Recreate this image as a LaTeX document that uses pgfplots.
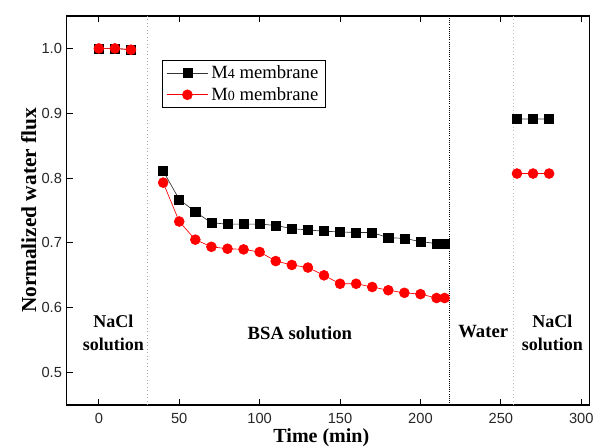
\documentclass[border=0pt]{standalone}
\usepackage{fontspec}
\setmainfont{Liberation Serif}
\newfontfamily\arialf{Liberation Sans}
\usepackage{pgfplots}
\pgfplotsset{compat=1.18}
\begin{document}
\begin{tikzpicture}
\path[use as bounding box] (-50pt,-32.25pt) rectangle (395.5pt,303.75pt);
\begin{axis}[
  scale only axis,
  width=392pt, height=291.75pt,
  xmin=-20, xmax=305, ymin=0.45, ymax=1.05,
  xtick={0,50,...,300},
  ytick={0.5,0.6,...,1.0},
  yticklabel style={/pgf/number format/.cd,fixed,fixed zerofill,precision=1},
  /pgf/number format/assume math mode=true,
  tick label style={font=\arialf\fontsize{11}{12}\selectfont, black!85},
  xticklabel style={yshift=-3pt},
  xtick pos=both, ytick pos=left,
  tick align=inside,
  major tick length=4.5pt,
  minor tick num=0,
  axis line style={line width=1pt},
  every tick/.style={black, line width=0.8pt},
  xlabel={\bfseries Time (min)},
  ylabel={\bfseries Normalized water flux},
  xlabel style={font=\fontsize{15}{17}\selectfont, yshift=1.5pt, xshift=-5pt, inner sep=1pt},
  ylabel style={font=\fontsize{16}{18}\selectfont, yshift=-3pt},
  unbounded coords=jump,
  legend style={at={(0.182,0.887)}, anchor=north west, draw=black, line width=0.6pt,
    font=\fontsize{14}{16}\selectfont, row sep=1pt, inner xsep=3pt, inner ysep=2pt},
  legend cell align=left,
  legend image code/.code={
    \draw[#1] (0cm,0cm) -- (1.1cm,0cm);
    \draw[#1, only marks] plot coordinates {(0.55cm,0cm)};
  },
  clip=false,
]
% vertical separators
\draw[black!35, dotted, line width=0.6pt] (axis cs:30,0.45) -- (axis cs:30,1.05);
\draw[black, densely dotted, line width=0.6pt] (axis cs:218,0.45) -- (axis cs:218,1.05);
\draw[black!25, dotted, line width=0.6pt] (axis cs:258,0.45) -- (axis cs:258,1.05);

\addplot[black!80, line width=0.5pt, mark=square*, mark size=3.4pt,
  mark options={fill=black, draw=black}] coordinates {
  (0,1.0) (10,1.0) (20,0.998) (25,nan)
  (40,0.811) (50,0.767) (60,0.748) (70,0.731) (80,0.729) (90,0.729) (100,0.729)
  (110,0.727) (120,0.722) (130,0.720) (140,0.718) (150,0.717) (160,0.716) (170,0.716)
  (180,0.708) (190,0.707) (200,0.702) (210,0.699) (215,0.699) (240,nan)
  (260,0.891) (270,0.891) (280,0.891)
};
\addlegendentry{M{\fontsize{10.5}{12}\selectfont 4} membrane}
\addplot[red, line width=0.5pt, mark=*, mark size=3.7pt,
  mark options={fill=red, draw=red}] coordinates {
  (0,1.0) (10,1.0) (20,0.998) (25,nan)
  (40,0.793) (50,0.733) (60,0.705) (70,0.694) (80,0.691) (90,0.690) (100,0.686)
  (110,0.672) (120,0.666) (130,0.662) (140,0.650) (150,0.637) (160,0.637) (170,0.632)
  (180,0.627) (190,0.623) (200,0.621) (210,0.615) (215,0.615) (240,nan)
  (260,0.807) (270,0.807) (280,0.807)
};
\addlegendentry{M{\fontsize{10.5}{12}\selectfont 0} membrane}

\node[font=\bfseries\fontsize{13.5}{17}\selectfont, align=center] at (axis cs:9,0.561) {NaCl\\solution};
\node[font=\bfseries\fontsize{14}{17}\selectfont] at (axis cs:125,0.561) {BSA solution};
\node[font=\bfseries\fontsize{14}{17}\selectfont] at (axis cs:239,0.564) {Water};
\node[font=\bfseries\fontsize{13.5}{17}\selectfont, align=center] at (axis cs:282,0.561) {NaCl\\solution};
\end{axis}
\end{tikzpicture}
\end{document}
